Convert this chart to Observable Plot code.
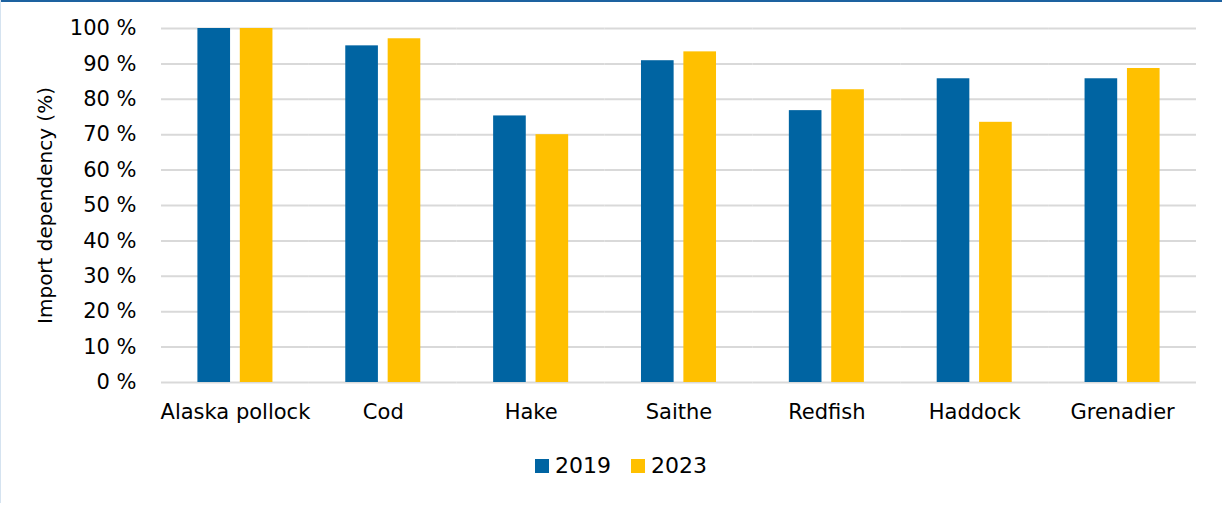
<!DOCTYPE html>
<html>
<head>
<meta charset="utf-8">
<script src="https://cdn.jsdelivr.net/npm/d3@7"></script>
<script src="https://cdn.jsdelivr.net/npm/@observablehq/plot@0.6"></script>
<style>
  html, body { margin: 0; padding: 0; background: #fff; }
  body { width: 1222px; height: 513px; position: relative; overflow: hidden; font-family: "DejaVu Sans", sans-serif; }
  #frameTop { position: absolute; left: 0; top: 0; width: 1222px; height: 2px; background: #1d62a0; }
  #frameLeft { position: absolute; left: 0; top: 0; width: 1px; height: 503px; background: #d5e3f0; }
  #chart { position: absolute; left: 0; top: 0; }
  #legend { position: absolute; left: 10px; top: 453px; width: 1222px; display: flex; justify-content: center; align-items: center; gap: 20px; font-size: 22px; color: #000; }
  #legend .item { display: flex; align-items: center; gap: 6px; }
  #legend .sw { width: 14px; height: 14px; display: inline-block; }
</style>
</head>
<body>
<div id="chart"></div>
<div id="legend"></div>
<div id="frameTop"></div>
<div id="frameLeft"></div>
<script>
const categories = ["Alaska pollock", "Cod", "Hake", "Saithe", "Redfish", "Haddock", "Grenadier"];
const years = ["2019", "2023"];
const values2019 = [100, 95.1, 75.3, 90.9, 76.8, 85.8, 85.8];
const values2023 = [100, 97.1, 70.0, 93.4, 82.7, 73.5, 88.7];
const yTicks = [0, 10, 20, 30, 40, 50, 60, 70, 80, 90, 100];
const colors = ["#0064a2", "#ffc000"];
const yLabel = "Import dependency (%)";

const data = [];
categories.forEach((c, i) => {
  data.push({cat: c, year: years[0], value: values2019[i]});
  data.push({cat: c, year: years[1], value: values2023[i]});
});

const chart = Plot.plot({
  width: 1222,
  height: 440,
  marginLeft: 161,
  marginRight: 26,
  marginTop: 28,
  marginBottom: 58,
  style: {fontFamily: "DejaVu Sans, sans-serif", fontSize: "20px", color: "#000", background: "transparent"},
  fx: {domain: categories, paddingInner: 0, paddingOuter: 0, round: false, label: null, axis: null},
  x: {domain: years, paddingInner: 0.23, paddingOuter: 0.859, round: false, axis: null},
  y: {domain: [0, 100], axis: null},
  color: {domain: years, range: colors},
  marks: [
    Plot.ruleY(yTicks, {stroke: "#d9d9d9", strokeWidth: 2}),
    Plot.barY(data, {fx: "cat", x: "year", y: "value", fill: "year"}),
    Plot.axisFx({domain: categories, anchor: "bottom", tickSize: 0, tickPadding: 22, fontSize: 21, label: null}),
    Plot.axisY({ticks: yTicks, anchor: "left", tickSize: 0, tickPadding: 25, fontSize: 21, tickFormat: d => d + " %", label: null}),
    Plot.text([{cat: categories[0]}], {fx: "cat", frameAnchor: "left", textAnchor: "middle", text: () => yLabel, rotate: -90, dx: -116, fontSize: 20})
  ]
});
document.getElementById("chart").appendChild(chart);

const legend = document.getElementById("legend");
years.forEach((y, i) => {
  const item = document.createElement("span");
  item.className = "item";
  const sw = document.createElement("span");
  sw.className = "sw";
  sw.style.background = colors[i];
  item.appendChild(sw);
  item.appendChild(document.createTextNode(y));
  legend.appendChild(item);
});
</script>
</body>
</html>
